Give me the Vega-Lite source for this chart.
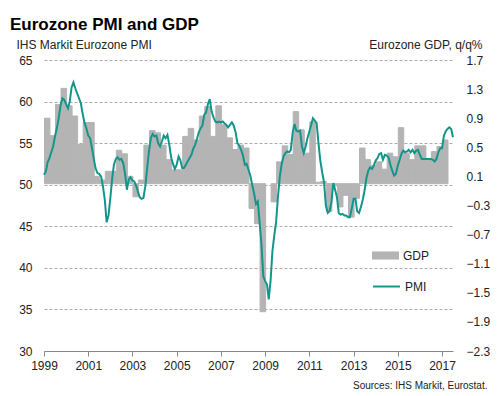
{
"$schema": "https://vega.github.io/schema/vega-lite/v6.json",
"width": 409, "height": 291,
"autosize": {"type": "none"},
"padding": {"left": 44, "top": 60, "right": 49, "bottom": 45},
"background": "white",
"config": {"font": "Liberation Sans", "view": {"stroke": null}},
"title": {"text": "Eurozone PMI and GDP", "anchor": "start", "frame": "group", "dx": -34, "fontSize": 17, "fontWeight": "bold", "color": "#000000", "offset": 4},
"datasets": {
"gdp": [
{"q":"1999-01-01","gdp":0.90},{"q":"1999-04-01","gdp":0.66},{"q":"1999-07-01","gdp":1.09},{"q":"1999-10-01","gdp":1.31},
{"q":"2000-01-01","gdp":1.07},{"q":"2000-04-01","gdp":0.93},{"q":"2000-07-01","gdp":0.54},{"q":"2000-10-01","gdp":0.84},
{"q":"2001-01-01","gdp":0.84},{"q":"2001-04-01","gdp":0.10},{"q":"2001-07-01","gdp":0.05},{"q":"2001-10-01","gdp":0.17},
{"q":"2002-01-01","gdp":0.17},{"q":"2002-04-01","gdp":0.46},{"q":"2002-07-01","gdp":0.41},{"q":"2002-10-01","gdp":0.10},
{"q":"2003-01-01","gdp":-0.18},{"q":"2003-04-01","gdp":0.05},{"q":"2003-07-01","gdp":0.53},{"q":"2003-10-01","gdp":0.73},
{"q":"2004-01-01","gdp":0.70},{"q":"2004-04-01","gdp":0.53},{"q":"2004-07-01","gdp":0.33},{"q":"2004-10-01","gdp":0.19},
{"q":"2005-01-01","gdp":0.19},{"q":"2005-04-01","gdp":0.65},{"q":"2005-07-01","gdp":0.76},{"q":"2005-10-01","gdp":0.60},
{"q":"2006-01-01","gdp":0.93},{"q":"2006-04-01","gdp":1.06},{"q":"2006-07-01","gdp":0.65},{"q":"2006-10-01","gdp":1.07},
{"q":"2007-01-01","gdp":0.81},{"q":"2007-04-01","gdp":0.63},{"q":"2007-07-01","gdp":0.47},{"q":"2007-10-01","gdp":0.53},
{"q":"2008-01-01","gdp":0.49},{"q":"2008-04-01","gdp":-0.34},{"q":"2008-07-01","gdp":-0.55},{"q":"2008-10-01","gdp":-1.76},
{"q":"2009-04-01","gdp":-0.25},{"q":"2009-07-01","gdp":0.30},{"q":"2009-10-01","gdp":0.52},
{"q":"2010-01-01","gdp":0.40},{"q":"2010-04-01","gdp":0.99},{"q":"2010-07-01","gdp":0.74},{"q":"2010-10-01","gdp":0.42},
{"q":"2011-01-01","gdp":0.85},{"q":"2011-04-01","gdp":0.02},{"q":"2011-07-01","gdp":0.03},{"q":"2011-10-01","gdp":-0.38},
{"q":"2012-01-01","gdp":-0.03},{"q":"2012-04-01","gdp":-0.32},{"q":"2012-07-01","gdp":-0.16},{"q":"2012-10-01","gdp":-0.46},
{"q":"2013-01-01","gdp":-0.20},{"q":"2013-04-01","gdp":0.49},{"q":"2013-07-01","gdp":0.33},{"q":"2013-10-01","gdp":0.25},
{"q":"2014-01-01","gdp":0.30},{"q":"2014-04-01","gdp":0.20},{"q":"2014-07-01","gdp":0.42},{"q":"2014-10-01","gdp":0.37},
{"q":"2015-01-01","gdp":0.77},{"q":"2015-04-01","gdp":0.42},{"q":"2015-07-01","gdp":0.33},{"q":"2015-10-01","gdp":0.52},
{"q":"2016-01-01","gdp":0.52},{"q":"2016-04-01","gdp":0.33},{"q":"2016-07-01","gdp":0.44},{"q":"2016-10-01","gdp":0.51},
{"q":"2017-01-01","gdp":0.60}
],
"pmi": [
{"m":"1999-01-01","pmi":51.2},{"m":"1999-02-01","pmi":51.6},{"m":"1999-03-01","pmi":52.7},{"m":"1999-04-01","pmi":53.2},{"m":"1999-05-01","pmi":53.9},{"m":"1999-06-01","pmi":54.6},{"m":"1999-07-01","pmi":55.8},{"m":"1999-08-01","pmi":56.8},{"m":"1999-09-01","pmi":58.0},{"m":"1999-10-01","pmi":59.5},{"m":"1999-11-01","pmi":60.4},{"m":"1999-12-01","pmi":60.2},
{"m":"2000-01-01","pmi":59.7},{"m":"2000-02-01","pmi":59.2},{"m":"2000-03-01","pmi":60.0},{"m":"2000-04-01","pmi":61.7},{"m":"2000-05-01","pmi":62.3},{"m":"2000-06-01","pmi":61.6},{"m":"2000-07-01","pmi":61.0},{"m":"2000-08-01","pmi":60.4},{"m":"2000-09-01","pmi":59.8},{"m":"2000-10-01","pmi":58.5},{"m":"2000-11-01","pmi":57.4},{"m":"2000-12-01","pmi":56.8},
{"m":"2001-01-01","pmi":55.9},{"m":"2001-02-01","pmi":55.6},{"m":"2001-03-01","pmi":54.5},{"m":"2001-04-01","pmi":53.2},{"m":"2001-05-01","pmi":52.0},{"m":"2001-06-01","pmi":51.4},{"m":"2001-07-01","pmi":51.3},{"m":"2001-08-01","pmi":51.0},{"m":"2001-09-01","pmi":49.8},{"m":"2001-10-01","pmi":48.2},{"m":"2001-11-01","pmi":45.5},{"m":"2001-12-01","pmi":46.3},
{"m":"2002-01-01","pmi":48.4},{"m":"2002-02-01","pmi":50.8},{"m":"2002-03-01","pmi":52.4},{"m":"2002-04-01","pmi":53.1},{"m":"2002-05-01","pmi":53.3},{"m":"2002-06-01","pmi":53.0},{"m":"2002-07-01","pmi":53.1},{"m":"2002-08-01","pmi":52.6},{"m":"2002-09-01","pmi":51.3},{"m":"2002-10-01","pmi":49.4},{"m":"2002-11-01","pmi":50.6},{"m":"2002-12-01","pmi":50.9},
{"m":"2003-01-01","pmi":50.5},{"m":"2003-02-01","pmi":50.4},{"m":"2003-03-01","pmi":49.9},{"m":"2003-04-01","pmi":49.2},{"m":"2003-05-01","pmi":48.5},{"m":"2003-06-01","pmi":48.3},{"m":"2003-07-01","pmi":48.4},{"m":"2003-08-01","pmi":49.8},{"m":"2003-09-01","pmi":52.0},{"m":"2003-10-01","pmi":54.0},{"m":"2003-11-01","pmi":55.6},{"m":"2003-12-01","pmi":56.1},
{"m":"2004-01-01","pmi":55.8},{"m":"2004-02-01","pmi":55.9},{"m":"2004-03-01","pmi":55.0},{"m":"2004-04-01","pmi":54.6},{"m":"2004-05-01","pmi":55.2},{"m":"2004-06-01","pmi":55.9},{"m":"2004-07-01","pmi":55.6},{"m":"2004-08-01","pmi":56.0},{"m":"2004-09-01","pmi":54.8},{"m":"2004-10-01","pmi":53.3},{"m":"2004-11-01","pmi":52.5},{"m":"2004-12-01","pmi":51.9},
{"m":"2005-01-01","pmi":52.4},{"m":"2005-02-01","pmi":53.4},{"m":"2005-03-01","pmi":53.0},{"m":"2005-04-01","pmi":52.0},{"m":"2005-05-01","pmi":52.0},{"m":"2005-06-01","pmi":52.4},{"m":"2005-07-01","pmi":52.8},{"m":"2005-08-01","pmi":53.2},{"m":"2005-09-01","pmi":53.6},{"m":"2005-10-01","pmi":54.3},{"m":"2005-11-01","pmi":54.8},{"m":"2005-12-01","pmi":55.5},
{"m":"2006-01-01","pmi":56.3},{"m":"2006-02-01","pmi":56.8},{"m":"2006-03-01","pmi":57.1},{"m":"2006-04-01","pmi":58.4},{"m":"2006-05-01","pmi":58.7},{"m":"2006-06-01","pmi":59.7},{"m":"2006-07-01","pmi":60.3},{"m":"2006-08-01","pmi":58.8},{"m":"2006-09-01","pmi":58.1},{"m":"2006-10-01","pmi":57.6},{"m":"2006-11-01","pmi":57.5},{"m":"2006-12-01","pmi":57.6},
{"m":"2007-01-01","pmi":57.5},{"m":"2007-02-01","pmi":57.6},{"m":"2007-03-01","pmi":57.4},{"m":"2007-04-01","pmi":57.2},{"m":"2007-05-01","pmi":56.9},{"m":"2007-06-01","pmi":57.2},{"m":"2007-07-01","pmi":57.5},{"m":"2007-08-01","pmi":57.1},{"m":"2007-09-01","pmi":56.3},{"m":"2007-10-01","pmi":55.0},{"m":"2007-11-01","pmi":54.7},{"m":"2007-12-01","pmi":54.2},
{"m":"2008-01-01","pmi":53.5},{"m":"2008-02-01","pmi":52.4},{"m":"2008-03-01","pmi":52.5},{"m":"2008-04-01","pmi":51.8},{"m":"2008-05-01","pmi":51.1},{"m":"2008-06-01","pmi":50.0},{"m":"2008-07-01","pmi":49.0},{"m":"2008-08-01","pmi":47.7},{"m":"2008-09-01","pmi":48.0},{"m":"2008-10-01","pmi":45.5},{"m":"2008-11-01","pmi":42.8},{"m":"2008-12-01","pmi":39.0},
{"m":"2009-01-01","pmi":38.4},{"m":"2009-02-01","pmi":38.0},{"m":"2009-03-01","pmi":36.2},{"m":"2009-04-01","pmi":38.5},{"m":"2009-05-01","pmi":42.0},{"m":"2009-06-01","pmi":43.9},{"m":"2009-07-01","pmi":45.5},{"m":"2009-08-01","pmi":48.6},{"m":"2009-09-01","pmi":51.0},{"m":"2009-10-01","pmi":52.5},{"m":"2009-11-01","pmi":53.4},{"m":"2009-12-01","pmi":53.8},
{"m":"2010-01-01","pmi":54.0},{"m":"2010-02-01","pmi":53.9},{"m":"2010-03-01","pmi":54.2},{"m":"2010-04-01","pmi":56.3},{"m":"2010-05-01","pmi":57.3},{"m":"2010-06-01","pmi":56.5},{"m":"2010-07-01","pmi":56.4},{"m":"2010-08-01","pmi":56.5},{"m":"2010-09-01","pmi":54.6},{"m":"2010-10-01","pmi":53.8},{"m":"2010-11-01","pmi":54.6},{"m":"2010-12-01","pmi":55.6},
{"m":"2011-01-01","pmi":56.4},{"m":"2011-02-01","pmi":57.2},{"m":"2011-03-01","pmi":58.0},{"m":"2011-04-01","pmi":57.7},{"m":"2011-05-01","pmi":57.4},{"m":"2011-06-01","pmi":55.0},{"m":"2011-07-01","pmi":52.9},{"m":"2011-08-01","pmi":51.5},{"m":"2011-09-01","pmi":50.3},{"m":"2011-10-01","pmi":47.5},{"m":"2011-11-01","pmi":46.6},{"m":"2011-12-01","pmi":46.8},
{"m":"2012-01-01","pmi":47.9},{"m":"2012-02-01","pmi":50.2},{"m":"2012-03-01","pmi":49.4},{"m":"2012-04-01","pmi":48.5},{"m":"2012-05-01","pmi":46.6},{"m":"2012-06-01","pmi":46.4},{"m":"2012-07-01","pmi":46.5},{"m":"2012-08-01","pmi":46.3},{"m":"2012-09-01","pmi":46.3},{"m":"2012-10-01","pmi":46.1},{"m":"2012-11-01","pmi":46.1},{"m":"2012-12-01","pmi":47.1},
{"m":"2013-01-01","pmi":48.3},{"m":"2013-02-01","pmi":48.3},{"m":"2013-03-01","pmi":46.8},{"m":"2013-04-01","pmi":46.6},{"m":"2013-05-01","pmi":47.3},{"m":"2013-06-01","pmi":48.2},{"m":"2013-07-01","pmi":49.3},{"m":"2013-08-01","pmi":50.8},{"m":"2013-09-01","pmi":51.7},{"m":"2013-10-01","pmi":52.1},{"m":"2013-11-01","pmi":51.9},{"m":"2013-12-01","pmi":52.3},
{"m":"2014-01-01","pmi":52.9},{"m":"2014-02-01","pmi":53.2},{"m":"2014-03-01","pmi":53.7},{"m":"2014-04-01","pmi":53.8},{"m":"2014-05-01","pmi":53.0},{"m":"2014-06-01","pmi":53.6},{"m":"2014-07-01","pmi":53.5},{"m":"2014-08-01","pmi":53.3},{"m":"2014-09-01","pmi":52.4},{"m":"2014-10-01","pmi":51.7},{"m":"2014-11-01","pmi":51.1},{"m":"2014-12-01","pmi":51.3},
{"m":"2015-01-01","pmi":52.3},{"m":"2015-02-01","pmi":53.0},{"m":"2015-03-01","pmi":53.7},{"m":"2015-04-01","pmi":54.1},{"m":"2015-05-01","pmi":53.9},{"m":"2015-06-01","pmi":54.0},{"m":"2015-07-01","pmi":54.2},{"m":"2015-08-01","pmi":53.9},{"m":"2015-09-01","pmi":54.2},{"m":"2015-10-01","pmi":53.8},{"m":"2015-11-01","pmi":54.1},{"m":"2015-12-01","pmi":54.2},
{"m":"2016-01-01","pmi":53.6},{"m":"2016-02-01","pmi":53.1},{"m":"2016-03-01","pmi":53.1},{"m":"2016-04-01","pmi":53.1},{"m":"2016-05-01","pmi":53.1},{"m":"2016-06-01","pmi":53.1},{"m":"2016-07-01","pmi":53.1},{"m":"2016-08-01","pmi":53.0},{"m":"2016-09-01","pmi":52.8},{"m":"2016-10-01","pmi":53.1},{"m":"2016-11-01","pmi":53.9},{"m":"2016-12-01","pmi":54.4},
{"m":"2017-01-01","pmi":54.4},{"m":"2017-02-01","pmi":55.9},{"m":"2017-03-01","pmi":56.4},{"m":"2017-04-01","pmi":56.7},{"m":"2017-05-01","pmi":56.9},{"m":"2017-06-01","pmi":56.7},{"m":"2017-07-01","pmi":55.7}
]
},
"layer": [
{
"data": {"name": "gdp"},
"mark": {"type": "bar", "color": "#b4b4b4", "binSpacing": 0, "stroke": "#b4b4b4", "strokeWidth": 1},
"encoding": {
"x": {"field": "q", "timeUnit": "yearquarter", "type": "temporal",
 "scale": {"domain": [{"year": 1999, "month": 1, "date": 1}, {"year": 2017, "month": 7, "date": 1}]},
 "axis": {"values": [{"year":1999},{"year":2000},{"year":2001},{"year":2002},{"year":2003},{"year":2004},{"year":2005},{"year":2006},{"year":2007},{"year":2008},{"year":2009},{"year":2010},{"year":2011},{"year":2012},{"year":2013},{"year":2014},{"year":2015},{"year":2016},{"year":2017}],
  "labelExpr": "year(datum.value) % 2 == 1 ? timeFormat(datum.value, '%Y') : ''",
  "grid": false, "domainColor": "#888888", "tickColor": "#888888", "tickSize": 5, "labelPadding": 4, "labelFontSize": 12, "labelColor": "#222222", "labelFlush": false,
  "title": "Sources: IHS Markit, Eurostat.", "titleFontSize": 10, "titleFontWeight": "normal", "titleColor": "#222222", "titleAlign": "right", "titleAnchor": null, "titleX": 443, "titleY": 37, "titleBaseline": "alphabetic"}},
"y": {"field": "gdp", "type": "quantitative",
 "scale": {"domain": [-2.3, 1.7], "nice": false},
 "axis": {"orient": "right", "values": [-2.3,-1.9,-1.5,-1.1,-0.7,-0.3,0.1,0.5,0.9,1.3,1.7], "format": ".1f", "grid": false, "domain": false, "ticks": false, "labelPadding": 13, "labelFontSize": 12, "labelColor": "#222222",
  "title": "Eurozone GDP, q/q%", "titleAngle": 0, "titleAlign": "right", "titleBaseline": "alphabetic", "titleX": 29, "titleY": -12, "titleFontSize": 12, "titleFontWeight": "normal", "titleColor": "#222222"}},
"fill": {"datum": "GDP", "type": "nominal", "scale": {"domain": ["GDP"], "range": ["#b4b4b4"]},
 "legend": {"orient": "none", "legendX": 328, "legendY": 182, "title": null, "padding": 0, "symbolType": "M-1,-0.3H1V0.3H-1Z", "symbolSize": 729, "symbolStrokeWidth": 0, "labelFontSize": 12, "labelOffset": 4, "labelColor": "#222222"}}
}
},
{
"data": {"name": "pmi"},
"mark": {"type": "line", "strokeWidth": 2},
"encoding": {
"x": {"field": "m", "type": "temporal",
 "scale": {"domain": [{"year": 1999, "month": 1, "date": 1}, {"year": 2017, "month": 7, "date": 1}]}},
"y": {"field": "pmi", "type": "quantitative",
 "scale": {"domain": [30, 65], "nice": false, "zero": false},
 "axis": {"orient": "left", "values": [30,35,40,45,50,55,60,65], "grid": true, "gridColor": "#aaaaaa", "gridDash": [3,2], "gridWidth": 1, "domain": false, "ticks": false, "labelPadding": 12, "labelFontSize": 12, "labelColor": "#222222",
  "title": "IHS Markit Eurozone PMI", "titleAngle": 0, "titleAlign": "left", "titleBaseline": "alphabetic", "titleX": -28, "titleY": -12, "titleFontSize": 12, "titleFontWeight": "normal", "titleColor": "#222222"}},
"stroke": {"datum": "PMI", "type": "nominal", "scale": {"domain": ["PMI"], "range": ["#12968c"]},
 "legend": {"orient": "none", "legendX": 328, "legendY": 212, "title": null, "padding": 0, "symbolType": "stroke", "symbolSize": 729, "symbolStrokeWidth": 2, "labelFontSize": 12, "labelOffset": 4, "labelColor": "#222222"}}
}
}
],
"resolve": {"scale": {"y": "independent"}}
}
